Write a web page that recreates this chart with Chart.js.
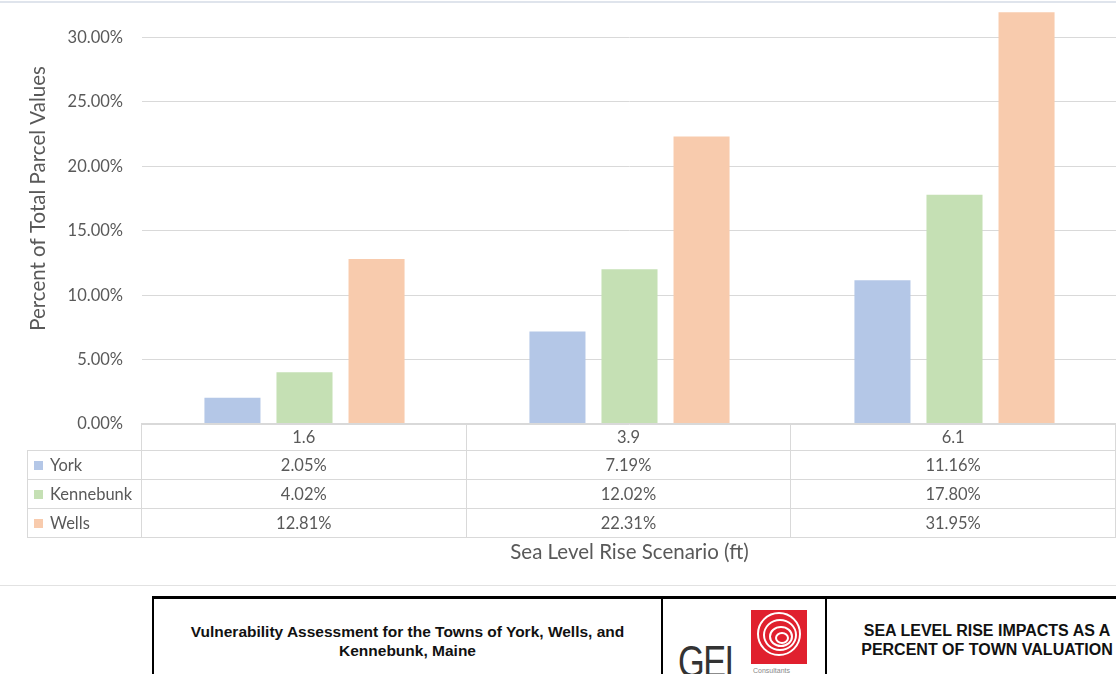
<!DOCTYPE html>
<html lang="en">
<head>
  <meta charset="UTF-8">
  <title>Sea Level Rise Impacts</title>
  <script src="https://cdn.jsdelivr.net/npm/chart.js"></script>
  <style>
    html, body { margin: 0; padding: 0; background: #fff; }
    body { width: 1116px; height: 674px; overflow: hidden; position: relative; font-family: Lato, sans-serif; }
    #chartWrap { position: absolute; left: 0; top: -56px; width: 1120px; height: 509px; }
    .frameTop { position: absolute; left: 0; top: 1px; width: 1116px; height: 2px; background: #dfe4ec; }
    .frameBottom { position: absolute; left: 0; top: 585px; width: 1116px; height: 1px; background: #e2e2e2; }
    #dataTable { position: absolute; left: 27px; top: 423px; border-collapse: collapse; color: #595959; font-size: 16.5px; }
    #dataTable td { border: 1px solid #d9d9d9; padding: 0; text-align: center; height: 28px; }
    #dataTable td.blank { border: none; border-right: 1px solid #d9d9d9; }
    #dataTable td.rowHead { text-align: left; width: 114px; padding-left: 6px; box-sizing: border-box; white-space: nowrap; }
    #dataTable td.val { width: 325px; }
    #dataTable tr.head td { height: 26px; }
    .swatch { display: inline-block; width: 9px; height: 9px; margin-right: 7px; vertical-align: 1px; }
    .xTitle { position: absolute; left: 142px; width: 975px; top: 539px; text-align: center; color: #595959; font-size: 20.5px; }
    .titleBlock { position: absolute; left: 152px; top: 596px; width: 1000px; height: 100px; border-top: 3px solid #000; border-left: 2px solid #000; }
    .cell { position: absolute; top: 0; height: 100px; font-family: "Liberation Sans Narrow", "Liberation Sans", sans-serif; font-weight: bold; color: #111; text-align: center; }
    .c1 { left: 0; width: 509px; font-size: 15.5px; line-height: 19px; padding-top: 23px; box-sizing: border-box; border-right: 2px solid #000; }
    .c2 { left: 511px; width: 160px; border-right: 2px solid #000; }
    .c3 { left: 673px; width: 320px; font-size: 16px; line-height: 19px; padding-top: 22px; box-sizing: border-box; }
    .gei { position: absolute; left: 13px; top: 38px; font-family: "Liberation Sans", sans-serif; font-weight: normal; font-size: 44px; color: #333; letter-spacing: -2px; transform: scaleX(0.78); transform-origin: left top; }
    .logoBox { position: absolute; left: 86px; top: 11px; width: 56px; height: 54px; background: #e0202e; overflow: hidden; }
    .ring { position: absolute; border: 2px solid #fff; border-radius: 50%; }
    .cons { position: absolute; left: 88px; top: 68px; font-family: "Liberation Sans", sans-serif; font-weight: normal; font-size: 7px; color: #888; }
  </style>
</head>
<body>
  <div id="chartWrap"><canvas id="slrChart"></canvas></div>
  <div class="frameTop"></div>
  <table id="dataTable"></table>
  <div class="xTitle">Sea Level Rise Scenario (ft)</div>
  <div class="frameBottom"></div>

  <div class="titleBlock">
    <div class="cell c1">Vulnerability Assessment for the Towns of York, Wells, and<br>Kennebunk, Maine</div>
    <div class="cell c2">
      <div class="gei">GEI</div>
      <div class="logoBox">
        <div class="ring" style="left:6px;top:2px;width:40px;height:40px;"></div>
        <div class="ring" style="left:12px;top:9px;width:30px;height:28px;"></div>
        <div class="ring" style="left:18px;top:16px;width:20px;height:17px;"></div>
        <div class="ring" style="left:24px;top:22px;width:10px;height:8px;"></div>
      </div>
      <div class="cons">Consultants</div>
    </div>
    <div class="cell c3">SEA LEVEL RISE IMPACTS AS A<br>PERCENT OF TOWN VALUATION</div>
  </div>

  <script>
    // scenarios (ft) and percent of total parcel values
    const scenarios = ['1.6', '3.9', '6.1'];
    const york = [2.05, 7.19, 11.16];
    const kennebunk = [4.02, 12.02, 17.80];
    const wells = [12.81, 22.31, 31.95];
    const townNames = ['York', 'Kennebunk', 'Wells'];
    const townColors = ['#b4c7e7', '#c5e0b4', '#f8cbad'];
    const townValues = [york, kennebunk, wells];

    const textGrey = '#595959';
    const pct = v => v.toFixed(2) + '%';

    // data table under the plot
    const table = document.getElementById('dataTable');
    let html = '<tr class="head"><td class="blank"></td>' +
      scenarios.map(s => '<td class="val">' + s + '</td>').join('') + '</tr>';
    townNames.forEach((name, i) => {
      html += '<tr><td class="rowHead"><span class="swatch" style="background:' + townColors[i] + '"></span>' + name + '</td>' +
        townValues[i].map(v => '<td class="val">' + pct(v) + '</td>').join('') + '</tr>';
    });
    table.innerHTML = html;

    const ctx = document.getElementById('slrChart').getContext('2d');
    new Chart(ctx, {
      type: 'bar',
      data: {
        labels: scenarios,
        datasets: townNames.map((name, i) => ({
          label: name,
          data: townValues[i],
          backgroundColor: townColors[i],
          categoryPercentage: 0.665,
          barPercentage: 0.778
        }))
      },
      options: {
        responsive: true,
        maintainAspectRatio: false,
        animation: false,
        layout: { padding: { left: 26, right: 3, top: 11.5, bottom: 0 } },
        plugins: {
          legend: { display: false },
          tooltip: { enabled: false }
        },
        scales: {
          x: { display: false },
          y: {
            min: 0,
            max: 35,
            afterFit: scale => { scale.width = 116; },
            border: { display: false },
            grid: { color: '#d9d9d9', drawTicks: false },
            ticks: {
              stepSize: 5,
              padding: 19,
              color: textGrey,
              font: { family: 'Lato', size: 16.5 },
              callback: v => pct(v)
            },
            title: {
              display: true,
              text: 'Percent of Total Parcel Values',
              color: textGrey,
              padding: 0,
              font: { family: 'Lato', size: 20.5 }
            }
          }
        }
      }
    });
  </script>
</body>
</html>
